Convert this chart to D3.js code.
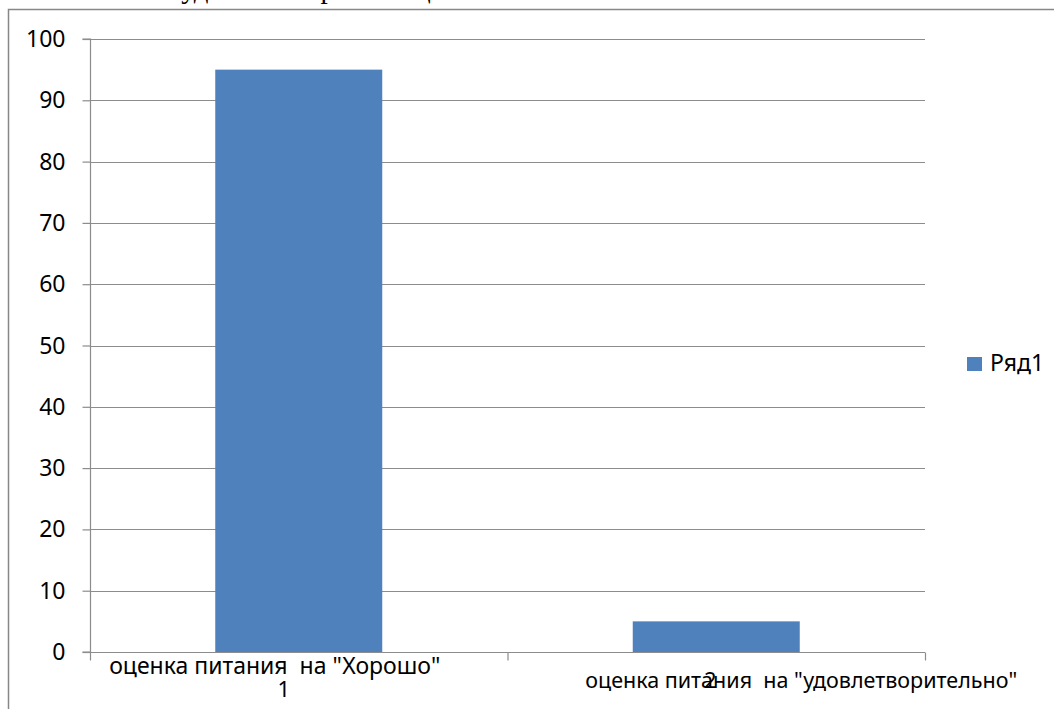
<!DOCTYPE html>
<html>
<head>
    <meta charset="utf-8">
    <script src="https://d3js.org/d3.v7.min.js"></script>
    <style>
        body { margin: 0; background: #fff; }
        svg { display: block; }
        .lbl { font-family: "Noto Sans", sans-serif; fill: #000; white-space: pre; }
    </style>
</head>
<body>
<svg id="chart"></svg>
<script>
    const categories = ["1", "2"];
    const categoryNotes = ["оценка питания  на \"Хорошо\"", "оценка питания  на \"удовлетворительно\""];
    const values = [95, 5];
    const yTicks = [0, 10, 20, 30, 40, 50, 60, 70, 80, 90, 100];
    const seriesName = "Ряд1";
    const pageTitle = "Отношение студентов к организации питания";

    const svgWidth = 1054, svgHeight = 709;
    const plot = { left: 90, right: 925, top: 39, bottom: 652 };

    const svg = d3.select("#chart")
        .attr("width", svgWidth)
        .attr("height", svgHeight);

    // title above the frame, mostly cut off by the page edge
    svg.append("text")
        .attr("x", 6)
        .attr("y", -2)
        .style("font-family", "'Liberation Serif', serif")
        .style("font-size", "29px")
        .text(pageTitle);

    // chart frame
    svg.append("path")
        .attr("d", `M8.5,${svgHeight + 5} V9.5 H${svgWidth + 5}`)
        .attr("fill", "none")
        .attr("stroke", "#878787")
        .attr("stroke-width", 1.5);

    const x = d3.scaleBand()
        .domain(categories)
        .range([plot.left, plot.right])
        .paddingInner(0.6)
        .paddingOuter(0.3);

    const y = d3.scaleLinear()
        .domain([0, 100])
        .range([plot.bottom, plot.top]);

    // gridlines
    svg.append("g")
        .selectAll("line")
        .data(yTicks)
        .join("line")
        .attr("x1", plot.left)
        .attr("x2", plot.right)
        .attr("y1", d => Math.round(y(d)) + 0.5)
        .attr("y2", d => Math.round(y(d)) + 0.5)
        .attr("stroke", "#8c8c8c")
        .attr("stroke-width", 1.2);

    // bars
    svg.append("g")
        .selectAll("rect")
        .data(values)
        .join("rect")
        .attr("x", (d, i) => x(categories[i]))
        .attr("y", d => y(d))
        .attr("width", x.bandwidth())
        .attr("height", d => y(0) - y(d))
        .attr("fill", "#4f81bd");

    // y axis
    const yAxis = svg.append("g")
        .attr("transform", `translate(${plot.left + 0.5},0)`)
        .call(d3.axisLeft(y).tickValues(yTicks).tickSize(8).tickPadding(17));
    yAxis.selectAll("path, line").attr("stroke", "#8c8c8c").attr("stroke-width", 1.2);
    yAxis.select(".domain").attr("d", `M-8,${plot.top}H0V${plot.bottom}H-8`);
    yAxis.selectAll("text")
        .attr("class", "lbl")
        .style("font-size", "23px")
        .attr("dy", "0.33em");

    // x axis
    const xBound = d3.scaleLinear().domain([0, categories.length]).range([plot.left, plot.right]);
    const xAxis = svg.append("g").attr("transform", `translate(0,${plot.bottom + 0.5})`);
    xAxis.append("line")
        .attr("x1", plot.left).attr("x2", plot.right)
        .attr("stroke", "#8c8c8c").attr("stroke-width", 1.2);
    xAxis.selectAll(".tk")
        .data(d3.range(categories.length + 1))
        .join("line")
        .attr("class", "tk")
        .attr("x1", d => xBound(d) + 0.5).attr("x2", d => xBound(d) + 0.5)
        .attr("y1", 0).attr("y2", 8)
        .attr("stroke", "#8c8c8c").attr("stroke-width", 1.2);

    const catMid = c => x(c) + x.bandwidth() / 2;
    const noteY = [674, 688];
    const noteDx = [-24, 85];
    const noteSize = [23, 21.5];
    const numY = [697, 688];
    const numDx = [-15, -6];

    svg.append("g").selectAll("text")
        .data(categoryNotes)
        .join("text")
        .attr("class", "lbl")
        .attr("x", (d, i) => catMid(categories[i]) + noteDx[i])
        .attr("y", (d, i) => noteY[i])
        .attr("text-anchor", "middle")
        .style("font-size", (d, i) => noteSize[i] + "px")
        .text(d => d);

    svg.append("g").selectAll("text")
        .data(categories)
        .join("text")
        .attr("class", "lbl")
        .attr("x", (d, i) => catMid(d) + numDx[i])
        .attr("y", (d, i) => numY[i])
        .attr("text-anchor", "middle")
        .style("font-size", "22px")
        .text(d => d);

    // legend
    const legend = svg.append("g").attr("transform", "translate(967,357)");
    legend.append("rect")
        .attr("width", 15).attr("height", 14)
        .attr("fill", "#4f81bd");
    legend.append("text")
        .attr("class", "lbl")
        .attr("x", 23)
        .attr("y", 14)
        .style("font-size", "23px")
        .text(seriesName);
</script>
</body>
</html>
